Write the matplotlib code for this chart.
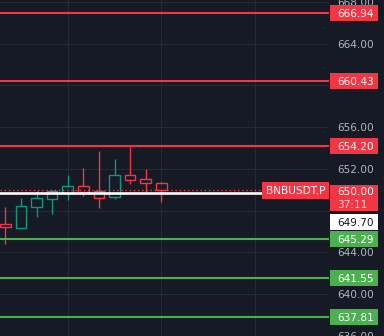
import matplotlib
matplotlib.use("Agg")
import matplotlib.pyplot as plt
from matplotlib.patches import Rectangle

# ---- data ----
opens  = [646.70, 646.37, 648.39, 649.15, 649.73, 650.37, 649.92, 649.29, 651.42, 651.01, 650.63]
closes = [646.41, 648.45, 649.22, 649.89, 650.37, 649.82, 649.25, 651.42, 650.97, 650.63, 650.00]
highs  = [648.36, 649.22, 649.92, 649.95, 651.45, 652.09, 653.72, 652.96, 654.10, 652.00, 650.75]
lows   = [644.78, 646.37, 647.43, 647.72, 649.03, 649.44, 648.29, 649.15, 650.59, 649.81, 648.81]
resistance = [666.94, 660.43, 654.20]
support = [645.29, 641.55, 637.81]
last_price = 650.00
mark_price = 649.70
countdown = "37:11"
symbol = "BNBUSDT.P"
tick_values = [668, 664, 656, 652, 644, 640, 636]
grid_y = [636, 640, 644, 648, 652, 656, 660, 664, 668]
grid_x = [4, 10, 16]

BG = "#161a25"
GRID = "#262a35"
RED = "#f23645"
TEAL = "#089981"
GREEN = "#4caf50"
TICK = "#b2b5be"

YMIN, YMAX = 636.0, 668.19
W, H = 384, 336
PLOT_W = 329
ppu = H / (YMAX - YMIN)  # pixels per price unit

fig = plt.figure(figsize=(W / 100, H / 100), dpi=100)
fig.patch.set_facecolor(BG)
ax = fig.add_axes([0, 0, PLOT_W / W, 1])
ax.set_facecolor(BG)
ax.set_xlim(-0.34, 20.75)
ax.set_ylim(YMIN, YMAX)
for s in ax.spines.values():
    s.set_visible(False)
ax.set_xticks(grid_x)
ax.set_yticks(grid_y)
ax.tick_params(left=False, bottom=False, labelleft=False, labelbottom=False)
ax.grid(True, color=GRID, lw=0.8)
ax.set_axisbelow(True)

bw = 0.68
for i, (o, c, h, l) in enumerate(zip(opens, closes, highs, lows)):
    col = TEAL if c >= o else RED
    top, bot = max(o, c), min(o, c)
    ax.add_patch(Rectangle((i - bw / 2, bot), bw, top - bot, facecolor="none",
                           edgecolor=col, lw=1.0, zorder=3))
    if h > top:
        ax.vlines(i, top, h, color=col, lw=1.0, zorder=3)
    if l < bot:
        ax.vlines(i, l, bot, color=col, lw=1.0, zorder=3)

for v in resistance:
    ax.axhline(v, color=RED, lw=1.5, zorder=4)
for v in support:
    ax.axhline(v, color=GREEN, lw=1.5, zorder=4)
ax.axhline(mark_price, color="white", lw=1.9, zorder=5)
ax.axhline(last_price, color=RED, lw=1.0, linestyle=(0, (1, 2)), zorder=5)

# price axis
pax = fig.add_axes([PLOT_W / W, 0, (W - PLOT_W) / W, 1])
pax.set_xlim(0, W - PLOT_W)
pax.set_ylim(YMIN, YMAX)
pax.axis("off")
pax.set_facecolor(BG)

FS = 7.6
TX = 45
for v in tick_values:
    pax.text(TX, v, f"{v:.2f}", ha="right", va="center_baseline", color=TICK,
             fontsize=FS, clip_on=False)

bh = 16 / ppu
def box(y_center, color, text, tcolor="white"):
    pax.add_patch(Rectangle((1, y_center - bh / 2), 48, bh, facecolor=color,
                            edgecolor="none", clip_on=False, zorder=5))
    pax.text(TX, y_center, text, ha="right", va="center_baseline", color=tcolor,
             fontsize=FS, clip_on=False, zorder=6)

for v in resistance:
    box(v, RED, f"{v:.2f}")
for v in support:
    box(v, GREEN, f"{v:.2f}")

# last price box with countdown
top_y = last_price + 5.3 / ppu
bot_y = last_price - 20.7 / ppu
pax.add_patch(Rectangle((1, bot_y), 48, top_y - bot_y, facecolor=RED,
                        edgecolor="none", clip_on=False, zorder=5))
pax.text(TX, last_price - 1.2 / ppu, f"{last_price:.2f}", ha="right", va="center_baseline",
         color="white", fontsize=FS, clip_on=False, zorder=6)
pax.text(TX - 6.5, last_price - 13.7 / ppu, countdown, ha="right", va="center_baseline",
         color="#fcd6d9", fontsize=FS, clip_on=False, zorder=6)

# mark price box (shifted below to avoid overlap)
mc = last_price - 32 / ppu
pax.add_patch(Rectangle((1, mc - bh / 2), 48, bh, facecolor="white",
                        edgecolor="none", clip_on=False, zorder=5))
pax.text(TX, mc, f"{mark_price:.2f}", ha="right", va="center_baseline",
         color="#131722", fontsize=FS, clip_on=False, zorder=6)

# symbol label
sc = last_price - 0.5 / ppu
sh = 17 / ppu
pax.add_patch(Rectangle((-67, sc - sh / 2), 67, sh, facecolor=RED,
                        edgecolor="none", clip_on=False, zorder=7))
pax.text(-33.5, sc, symbol, ha="center", va="center_baseline", color="white",
         fontsize=FS, clip_on=False, zorder=8)

fig.savefig("out.png", dpi=100, facecolor=BG)
